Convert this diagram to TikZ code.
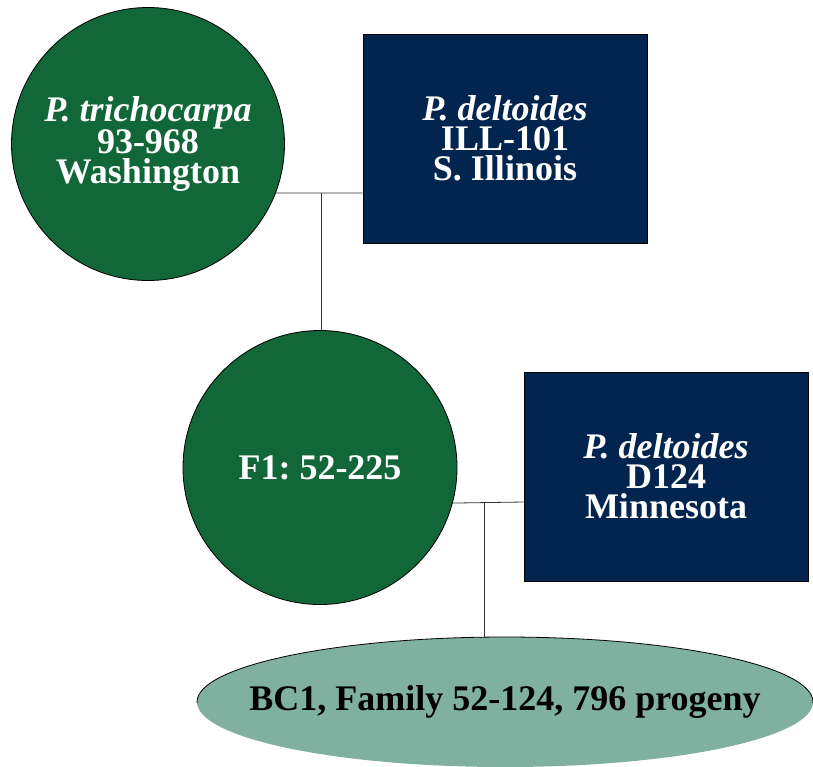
\documentclass[tikz,border=0pt]{standalone}
\usepackage{fontspec}
\setmainfont{Liberation Serif}
\usetikzlibrary{shapes.geometric}
\definecolor{popgreen}{RGB}{17,103,55}
\definecolor{popnavy}{RGB}{2,37,80}
\definecolor{popsage}{RGB}{128,176,160}

\begin{document}
\begin{tikzpicture}[x=1pt,y=-1pt,font=\fontsize{36}{30}\selectfont\bfseries\frenchspacing]
\tikzstyle{fem}=[circle,draw,line width=0.8pt,fill=popgreen,text=white,inner sep=0pt,align=center]
\tikzstyle{male}=[rectangle,draw,line width=0.8pt,fill=popnavy,text=white,minimum width=284pt,minimum height=209pt,align=center]
\tikzstyle{link}=[line width=0.8pt,black!80]
\useasboundingbox (0,0) rectangle (813,766);
% parents
\node[fem,minimum size=273pt] (tri) at (148,144) {\textit{P. trichocarpa}\\93-968\\Washington};
\node[male] (ill) at (505,138.5) {\textit{P. deltoides}\\ILL-101\\S. Illinois};
% F1 and backcross parent
\node[fem,minimum size=274pt] (fone) at (320,467.5) {F1: 52-225};
\node[male] (dee) at (666,476.5) {\textit{P. deltoides}\\D124\\Minnesota};
% progeny
\node[ellipse,fill=popsage,inner sep=0pt,minimum width=616pt,minimum height=130pt,
  label={[text=black]center:BC1, Family 52-124, 796 progeny}] (bc) at (505,702) {};
\begin{scope}
\clip (0,0) rectangle (813,702);
\draw[line width=0.8pt] (bc.center) ellipse [x radius=308pt,y radius=65pt];
\end{scope}
\coordinate (j1) at (321,193);
\coordinate (j2) at (484,502);
\draw[link] (tri.-21) -- (ill.west |- j1);
\draw[link] (j1) -- (fone.north -| j1);
\draw[link] (fone.-15) -- (dee.west |- j2);
\draw[link] (j2) -- (bc.north -| j2);
\end{tikzpicture}
\end{document}
